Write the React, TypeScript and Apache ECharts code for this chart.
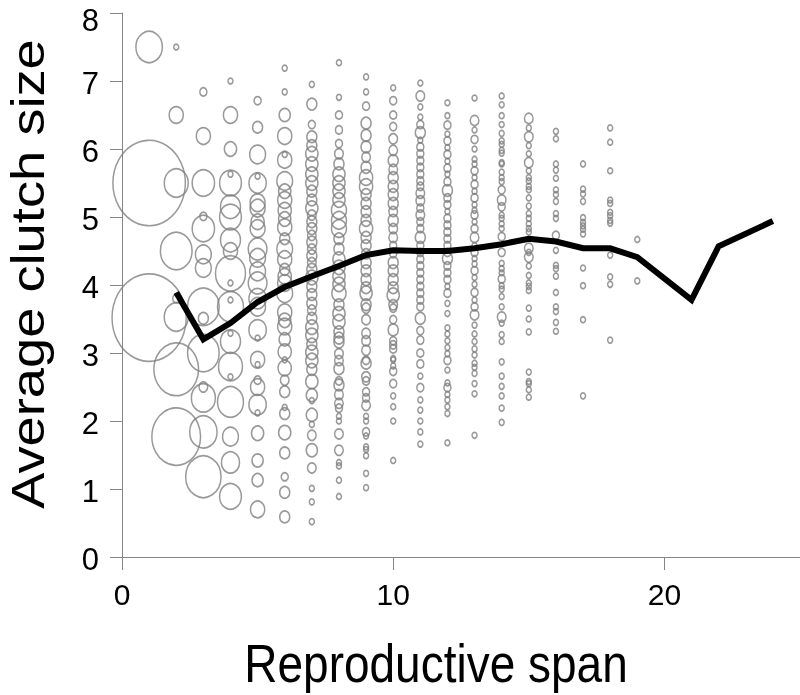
import React, { useEffect, useRef } from "react";
import * as echarts from "echarts";

// Each entry: [average clutch size, number of birds]
const span01: [number, number][] = [[7.5, 28], [5.5, 210], [3.52, 220]];
const span02: [number, number][] = [[7.5, 1], [6.5, 8], [5.5, 23], [4.5, 40], [3.8, 2], [3.53, 23], [2.76, 80], [1.77, 95]];
const span03: [number, number][] = [[6.84, 2], [6.19, 8], [5.5, 20], [5.01, 2], [4.83, 20], [4.45, 10], [4.25, 10], [3.68, 40], [3.51, 4], [3.0, 40], [2.5, 3], [2.34, 23], [1.84, 30], [1.18, 50]];
const span04: [number, number][] = [[7.0, 1], [6.5, 8], [6.0, 6], [5.63, 1], [5.5, 19], [5.15, 16], [5.0, 19], [4.66, 16], [4.5, 8], [4.17, 36], [4.03, 1], [3.78, 1], [3.68, 27], [3.29, 1], [3.17, 16], [2.8, 23], [2.65, 1], [2.28, 27], [1.77, 10], [1.39, 13], [0.89, 19]];
const span05: [number, number][] = [[6.71, 2], [6.32, 4], [5.92, 10], [5.6, 1], [5.5, 12], [5.21, 9], [5.13, 9], [4.93, 7], [4.83, 9], [4.53, 14], [4.4, 10], [4.2, 10], [4.03, 14], [3.8, 12], [3.68, 10], [3.34, 12], [3.22, 1], [2.9, 8], [2.83, 1], [2.6, 2], [2.5, 8], [2.24, 12], [2.12, 1], [1.82, 6], [1.42, 5], [1.13, 5], [0.7, 8]];
const span06: [number, number][] = [[7.19, 1], [6.84, 1], [6.5, 5], [6.19, 8], [5.92, 1], [5.84, 8], [5.53, 10], [5.38, 6], [5.25, 8], [5.1, 7], [4.97, 6], [4.85, 8], [4.68, 4], [4.53, 10], [4.38, 8], [4.23, 4], [4.13, 7], [4.03, 8], [3.88, 10], [3.6, 8], [3.48, 6], [3.39, 8], [3.2, 5], [3.02, 7], [2.9, 1], [2.78, 7], [2.6, 3], [2.43, 4], [2.2, 1], [2.11, 4], [1.83, 6], [1.53, 4], [1.18, 2], [0.95, 4], [0.59, 4]];
const span07: [number, number][] = [[6.95, 1], [6.66, 4], [6.36, 2], [6.18, 4], [6.05, 4], [5.93, 6], [5.78, 6], [5.63, 6], [5.5, 6], [5.38, 4], [5.25, 4], [5.13, 6], [5.03, 3], [4.93, 4], [4.83, 4], [4.73, 3], [4.63, 4], [4.53, 3], [4.43, 4], [4.33, 3], [4.23, 4], [4.11, 6], [3.98, 4], [3.86, 4], [3.73, 4], [3.63, 3], [3.51, 4], [3.38, 6], [3.26, 6], [3.13, 4], [3.01, 6], [2.89, 6], [2.76, 4], [2.58, 6], [2.38, 5], [2.3, 1], [2.09, 5], [1.95, 1], [1.79, 3], [1.57, 5], [1.31, 3], [1.01, 1], [0.81, 1], [0.52, 1]];
const span08: [number, number][] = [[7.27, 1], [6.76, 1], [6.5, 2], [6.28, 2], [6.08, 2], [5.93, 3], [5.78, 4], [5.63, 6], [5.5, 6], [5.38, 6], [5.25, 6], [5.1, 9], [4.95, 9], [4.83, 9], [4.68, 4], [4.53, 4], [4.38, 6], [4.26, 6], [4.13, 6], [4.01, 6], [3.88, 8], [3.71, 4], [3.58, 6], [3.46, 6], [3.31, 4], [3.22, 4], [3.16, 4], [2.99, 3], [2.89, 3], [2.77, 4], [2.59, 2], [2.53, 4], [2.39, 3], [2.26, 3], [2.19, 2], [2.07, 1], [2.0, 1], [1.81, 3], [1.57, 3], [1.39, 1], [1.34, 1], [1.13, 1], [0.89, 1]];
const span09: [number, number][] = [[7.06, 1], [6.84, 1], [6.63, 2], [6.38, 4], [6.2, 4], [6.03, 4], [5.88, 3], [5.73, 4], [5.58, 7], [5.45, 7], [5.33, 4], [5.2, 4], [5.08, 4], [4.95, 4], [4.83, 7], [4.7, 4], [4.58, 4], [4.46, 3], [4.33, 4], [4.21, 4], [4.08, 4], [3.96, 4], [3.88, 6], [3.71, 4], [3.66, 3], [3.49, 3], [3.29, 3], [3.18, 3], [3.04, 3], [2.89, 2], [2.85, 4], [2.65, 3], [2.59, 2], [2.43, 2], [2.34, 2], [2.23, 3], [2.07, 1], [2.0, 1], [1.84, 2], [1.78, 1], [1.62, 1], [1.58, 1], [1.49, 1], [1.23, 1], [1.02, 1]];
const span10: [number, number][] = [[6.9, 1], [6.71, 2], [6.5, 2], [6.33, 2], [6.15, 3], [5.98, 3], [5.83, 4], [5.7, 3], [5.58, 4], [5.45, 4], [5.33, 4], [5.2, 4], [5.08, 3], [4.95, 4], [4.83, 3], [4.7, 3], [4.58, 2], [4.46, 2], [4.33, 4], [4.21, 4], [4.08, 4], [3.96, 4], [3.85, 6], [3.71, 3], [3.66, 2], [3.49, 2], [3.34, 4], [3.18, 2], [3.12, 2], [3.06, 2], [2.92, 1], [2.9, 1], [2.81, 1], [2.73, 2], [2.55, 2], [2.37, 1], [2.21, 1], [2.0, 1], [1.42, 1]];
const span11: [number, number][] = [[6.97, 1], [6.78, 3], [6.62, 1], [6.47, 1], [6.36, 2], [6.24, 4], [6.13, 1], [6.03, 2], [5.93, 2], [5.83, 2], [5.73, 2], [5.63, 2], [5.53, 2], [5.45, 2], [5.35, 3], [5.24, 3], [5.13, 2], [5.03, 3], [4.93, 2], [4.83, 2], [4.7, 4], [4.58, 2], [4.48, 2], [4.38, 2], [4.28, 2], [4.18, 2], [4.08, 2], [3.98, 2], [3.88, 2], [3.78, 2], [3.68, 2], [3.51, 4], [3.33, 2], [3.19, 2], [3.0, 2], [2.84, 2], [2.66, 1], [2.49, 2], [2.31, 1], [2.16, 1], [2.0, 1], [1.84, 1], [1.66, 1]];
const span12: [number, number][] = [[6.68, 1], [6.49, 1], [6.35, 2], [6.22, 1], [6.12, 2], [6.02, 1], [5.92, 2], [5.82, 1], [5.72, 2], [5.63, 1], [5.52, 2], [5.39, 4], [5.28, 2], [5.18, 2], [5.08, 1], [4.98, 2], [4.88, 2], [4.78, 2], [4.68, 2], [4.58, 2], [4.48, 2], [4.39, 4], [4.28, 2], [4.18, 2], [4.08, 2], [3.98, 1], [3.88, 2], [3.73, 1], [3.58, 1], [3.37, 1], [3.28, 1], [3.18, 1], [3.08, 1], [2.99, 1], [2.89, 2], [2.75, 1], [2.56, 1], [2.49, 2], [2.39, 1], [2.31, 1], [2.21, 1], [2.11, 1], [1.68, 1]];
const span13: [number, number][] = [[6.75, 1], [6.42, 3], [6.28, 1], [6.14, 2], [6.0, 1], [5.85, 1], [5.78, 1], [5.68, 2], [5.58, 1], [5.48, 2], [5.38, 1], [5.28, 2], [5.18, 1], [5.1, 1], [5.03, 2], [4.93, 1], [4.83, 2], [4.7, 3], [4.58, 1], [4.48, 2], [4.39, 1], [4.31, 1], [4.21, 2], [4.11, 1], [4.01, 1], [3.89, 2], [3.78, 1], [3.68, 2], [3.56, 3], [3.41, 1], [3.28, 1], [3.17, 1], [3.06, 1], [2.97, 1], [2.85, 1], [2.79, 1], [2.7, 1], [2.55, 1], [2.4, 1], [1.79, 1]];
const span14: [number, number][] = [[6.78, 1], [6.65, 1], [6.49, 1], [6.36, 1], [6.23, 1], [6.12, 1], [6.07, 1], [5.98, 1], [5.94, 1], [5.8, 1], [5.78, 1], [5.66, 1], [5.58, 1], [5.52, 1], [5.4, 2], [5.25, 3], [5.15, 2], [5.03, 1], [4.98, 1], [4.9, 1], [4.83, 1], [4.71, 2], [4.48, 2], [4.32, 1], [4.24, 1], [4.18, 1], [4.09, 2], [3.99, 1], [3.94, 1], [3.83, 1], [3.68, 1], [3.53, 3], [3.44, 1], [3.27, 1], [3.17, 1], [2.87, 1], [2.66, 1], [2.51, 1], [2.37, 1], [2.19, 1], [1.98, 1]];
const span15: [number, number][] = [[6.45, 3], [6.31, 1], [6.18, 3], [6.05, 1], [5.93, 1], [5.8, 3], [5.68, 1], [5.58, 1], [5.53, 1], [5.45, 1], [5.4, 1], [5.28, 1], [5.16, 1], [5.05, 1], [4.98, 1], [4.9, 1], [4.83, 1], [4.78, 1], [4.54, 3], [4.48, 1], [4.41, 3], [4.28, 1], [4.14, 1], [4.03, 1], [3.98, 1], [3.92, 1], [3.66, 1], [3.5, 1], [3.31, 1], [2.72, 1], [2.58, 1], [2.55, 1], [2.46, 1], [2.35, 1]];
const span16: [number, number][] = [[6.26, 1], [6.15, 1], [5.78, 1], [5.69, 1], [5.57, 1], [5.4, 1], [5.33, 1], [5.23, 1], [5.05, 1], [4.98, 1], [4.73, 2], [4.51, 1], [4.29, 1], [4.24, 1], [4.13, 1], [3.89, 1], [3.68, 1], [3.61, 1], [3.45, 1], [3.32, 1]];
const span17: [number, number][] = [[5.78, 1], [5.41, 1], [5.34, 1], [5.23, 1], [4.99, 1], [4.92, 1], [4.87, 1], [4.82, 1], [4.75, 1], [4.25, 1], [3.99, 1], [3.49, 1], [2.37, 1]];
const span18: [number, number][] = [[6.31, 1], [6.1, 1], [5.68, 1], [5.25, 1], [5.2, 1], [5.07, 1], [5.02, 1], [4.95, 1], [4.91, 1], [4.44, 1], [4.12, 1], [4.01, 1], [3.19, 1]];
const span19: [number, number][] = [[4.67, 1], [4.06, 1]];

const spanColumns = [span01, span02, span03, span04, span05, span06, span07, span08, span09, span10, span11, span12, span13, span14, span15, span16, span17, span18, span19];

// Mean clutch size by reproductive span (black line)
const meanSpan = [2, 3, 4, 5, 6, 7, 8, 9, 10, 11, 12, 13, 14, 15, 16, 17, 18, 19, 21, 22, 24];
const meanClutch = [3.89, 3.2, 3.44, 3.75, 3.97, 4.13, 4.28, 4.44, 4.51, 4.5, 4.5, 4.54, 4.6, 4.68, 4.64, 4.54, 4.54, 4.41, 3.78, 4.57, 4.94];

const yTicks = [0, 1, 2, 3, 4, 5, 6, 7, 8];
const xTicks = [0, 10, 20];

const FONT = '"Liberation Sans", Arial, sans-serif';
const STRETCH = 1.18; // the original picture is stretched vertically

export default function App() {
  const ref = useRef<HTMLDivElement>(null);
  useEffect(() => {
    if (!ref.current) return;
    const chart = echarts.init(ref.current, undefined, { renderer: "svg" });
    const bubbles: number[][] = [];
    spanColumns.forEach((col, i) => {
      col.forEach(([y, n]) => bubbles.push([i + 1, y, n]));
    });
    const line = meanSpan.map((x, i) => [x, meanClutch[i]]);
    const yMax = yTicks[yTicks.length - 1];
    chart.setOption({
      animation: false,
      grid: { left: 122, top: 13, width: 680, height: 544, containLabel: false },
      xAxis: {
        type: "value",
        min: xTicks[0],
        max: 25,
        interval: 10,
        axisLine: { show: true, lineStyle: { color: "#868686", width: 1 } },
        axisTick: { show: true, length: 13, lineStyle: { color: "#868686", width: 1 } },
        axisLabel: {
          fontSize: 30,
          color: "#000",
          fontFamily: FONT,
          margin: 22,
          showMaxLabel: false,
          formatter: (v: number) => (xTicks.includes(v) ? String(v) : ""),
        },
        splitLine: { show: false },
      },
      yAxis: {
        type: "value",
        min: yTicks[0],
        max: yMax,
        interval: 1,
        axisLine: { show: true, lineStyle: { color: "#868686", width: 1 } },
        axisTick: { show: true, length: 12, lineStyle: { color: "#868686", width: 1 } },
        axisLabel: {
          margin: 23,
          formatter: (v: number) => (v === yMax ? `{top|${v}}` : `{n|${v}}`),
          rich: {
            n: { fontSize: 31, color: "#000", fontFamily: FONT, padding: [4, 0, 0, 0] },
            top: { fontSize: 31, color: "#000", fontFamily: FONT, padding: [14, 0, 0, 0] },
          },
        },
        splitLine: { show: false },
      },
      series: [
        {
          type: "scatter",
          data: bubbles,
          symbol: "circle",
          symbolSize: (v: number[]) => {
            const w = 5 * Math.sqrt(v[2]);
            return [w, w * STRETCH];
          },
          itemStyle: { color: "rgba(0,0,0,0)", borderColor: "#808080", borderWidth: 1.6 },
          silent: true,
          z: 2,
        },
        {
          type: "line",
          data: line,
          symbol: "none",
          lineStyle: { color: "#000", width: 6, join: "miter" },
          silent: true,
          z: 3,
        },
      ],
      graphic: [
        {
          type: "text",
          x: 28,
          y: 274,
          rotation: Math.PI / 2,
          scaleX: STRETCH,
          style: {
            text: "Average clutch size",
            font: `46px ${FONT}`,
            fill: "#000",
            align: "center",
            verticalAlign: "middle",
          },
        },
        {
          type: "text",
          x: 436,
          y: 663,
          scaleY: STRETCH,
          style: {
            text: "Reproductive span",
            font: `46px ${FONT}`,
            fill: "#000",
            align: "center",
            verticalAlign: "middle",
          },
        },
      ],
    });
    return () => chart.dispose();
  }, []);
  return <div ref={ref} style={{ position: "fixed", left: 0, top: 0, width: 800, height: 695 }} />;
}
